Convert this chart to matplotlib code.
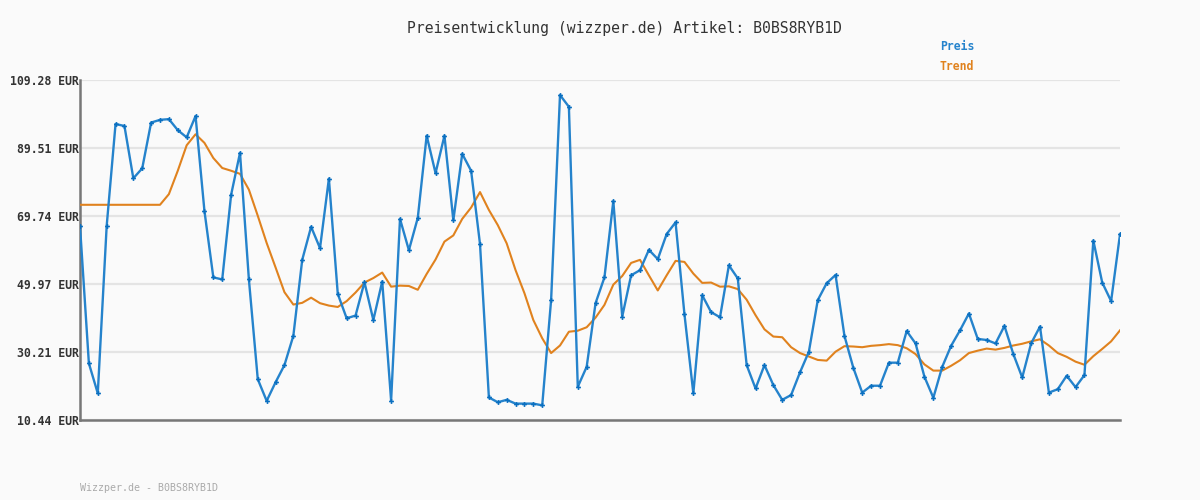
import matplotlib
matplotlib.use("Agg")
import matplotlib.pyplot as plt

# Preisverlauf (gelesen aus dem Bild)
preis = [66.8, 26.9, 18.2, 66.8, 96.5, 95.9, 80.7, 83.6, 96.9, 97.7,
         97.9, 94.7, 92.6, 98.8, 71.2, 51.9, 51.3, 75.9, 88.1, 51.3,
         22.3, 16.0, 21.4, 26.4, 34.9, 57.0, 66.6, 60.4, 80.6, 47.1,
         40.0, 40.8, 50.5, 39.5, 50.7, 16.1, 68.9, 59.8, 69.2, 93.1,
         82.2, 93.1, 68.5, 87.8, 82.9, 61.6, 17.0, 15.6, 16.3, 15.2,
         15.2, 15.2, 14.7, 45.3, 104.9, 101.5, 20.1, 25.9, 44.4, 51.9,
         74.1, 40.5, 52.5, 54.0, 59.9, 57.2, 64.5, 67.9, 41.2, 18.2,
         46.7, 41.8, 40.3, 55.4, 51.6, 26.4, 19.6, 26.4, 20.6, 16.3,
         17.7, 24.3, 30.3, 45.3, 50.2, 52.6, 34.9, 25.6, 18.4, 20.4,
         20.4, 27.1, 27.1, 36.3, 32.7, 23.0, 16.9, 25.9, 32.0, 36.5,
         41.4, 34.0, 33.7, 32.7, 37.8, 29.6, 22.8, 32.7, 37.6, 18.4,
         19.4, 23.3, 20.0, 23.5, 62.6, 50.4, 45.0, 64.4]

trend = [73.0, 73.0, 73.0, 73.0, 73.0, 73.0, 73.0, 73.0, 73.0, 73.0,
         76.1, 82.9, 90.3, 93.5, 91.0, 86.6, 83.7, 82.9, 82.0, 77.4,
         69.8, 61.9, 54.8, 47.6, 44.0, 44.5, 46.0, 44.4, 43.7, 43.3,
         45.0, 47.5, 50.4, 51.7, 53.3, 49.2, 49.5, 49.4, 48.3, 52.9,
         57.1, 62.3, 64.1, 68.9, 72.2, 76.7, 71.5, 67.1, 61.8, 54.0,
         47.3, 39.5, 34.2, 29.9, 32.1, 36.1, 36.4, 37.4, 40.2, 43.9,
         49.8, 52.3, 56.1, 57.0, 52.5, 48.1, 52.5, 56.7, 56.4, 53.0,
         50.3, 50.4, 49.2, 49.3, 48.5, 45.4, 40.9, 36.8, 34.7, 34.5,
         31.6, 29.9, 28.9, 27.9, 27.7, 30.3, 31.9, 31.8, 31.6, 32.0,
         32.2, 32.5, 32.2, 31.3, 29.6, 26.6, 24.8, 24.8, 26.2, 27.8,
         29.9, 30.6, 31.2, 30.9, 31.4, 32.1, 32.6, 33.3, 33.9, 32.1,
         29.9, 28.8, 27.4, 26.5, 29.0, 31.1, 33.3, 36.5]

y_ticks = [10.44, 30.21, 49.97, 69.74, 89.51, 109.28]
y_labels = ["%.2f EUR" % v for v in y_ticks]

artikel = "B0BS8RYB1D"
bg = "#fafafa"
blau = "#2583cc"
orange = "#e0821e"
mono = "DejaVu Sans Mono"

fig = plt.figure(figsize=(12, 5), dpi=100, facecolor=bg)
ax = fig.add_axes([80 / 1200, 80 / 500, 1040 / 1200, 340 / 500])
ax.set_facecolor(bg)

x = list(range(len(preis)))
ax.plot(x, trend, color=orange, lw=1.5, zorder=3)
ax.plot(x, preis, color=blau, lw=1.7, marker="P", markersize=3.5,
        markerfacecolor="#0a6fc0", markeredgewidth=0, zorder=4)

ax.set_xlim(0, len(preis) - 1)
ax.set_ylim(y_ticks[0], y_ticks[-1])
ax.set_yticks(y_ticks)
ax.set_yticklabels(y_labels, family=mono, fontweight="bold", fontsize=8.3, color="#333333")
ax.set_xticks([])
ax.tick_params(axis="y", length=0, pad=1)
ax.grid(axis="y", color="#e4e4e4", lw=1.6, zorder=0)
ax.set_axisbelow(True)

for s in ["top", "right"]:
    ax.spines[s].set_visible(False)
for s in ["left", "bottom"]:
    ax.spines[s].set_color("#777777")
    ax.spines[s].set_linewidth(1.8)

fig.text(624 / 1200, 1 - 28 / 500, "Preisentwicklung (wizzper.de) Artikel: " + artikel,
         family=mono, fontsize=10.6, color="#333333", ha="center", va="center")
fig.text(940 / 1200, 1 - 47 / 500, "Preis", family=mono, fontweight="bold",
         fontsize=8.3, color=blau, ha="left", va="center")
fig.text(940 / 1200, 1 - 67 / 500, "Trend", family=mono, fontweight="bold",
         fontsize=8.3, color=orange, ha="left", va="center")
fig.text(80 / 1200, 1 - 488 / 500, "Wizzper.de - " + artikel, family=mono,
         fontsize=7.2, color="#aaaaaa", ha="left", va="center")

fig.savefig("out.png", dpi=100, facecolor=bg)
